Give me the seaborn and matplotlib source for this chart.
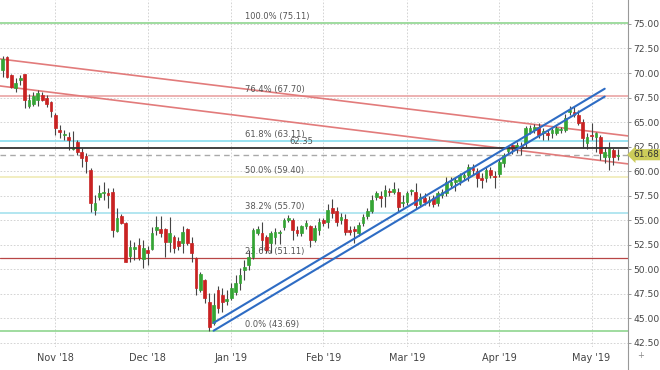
import numpy as np
import pandas as pd
import matplotlib
matplotlib.use("Agg")
import matplotlib.pyplot as plt
import matplotlib.transforms as mtransforms
from matplotlib.lines import Line2D
from matplotlib.ticker import FormatStrFormatter
import seaborn as sns

# trading days on the chart
first_day = "2018-10-16"
last_day = "2019-05-09"
holidays = ["2018-11-22", "2018-12-05", "2018-12-25", "2019-01-01",
            "2019-01-21", "2019-02-18", "2019-04-19"]

# daily candles
opens = [70.30, 71.67, 69.80, 68.45, 69.30, 69.90, 66.68, 66.80, 67.26, 67.77, 67.50, 67.00,
         65.73, 64.20, 63.70, 63.52, 62.27, 62.95, 61.93, 61.55, 60.13, 56.00, 57.40, 57.80,
         57.80, 57.92, 53.94, 55.44, 54.70, 51.36, 52.05, 52.50, 51.03,
         51.98, 52.05, 54.00, 54.10, 54.08, 52.82, 53.33, 52.90, 52.66, 54.08, 52.72, 51.13,
         47.90, 48.90, 46.71,
         44.50, 47.90, 47.40, 46.80, 47.05, 47.73, 48.58, 49.94, 50.45, 51.30, 53.75, 53.75,
         53.33, 52.66, 53.33, 53.70, 54.35, 55.03, 55.03, 54.00, 53.75, 54.40, 54.42, 53.00,
         54.00, 55.03, 54.86, 56.20, 55.90, 55.00, 55.10, 54.00, 54.10, 53.67, 54.70, 55.40,
         55.90, 57.40, 57.50, 57.50, 58.00, 57.92, 57.92, 56.80, 56.90, 57.95, 57.92, 56.70,
         57.30, 56.90, 57.30, 56.73, 57.60, 57.75, 58.60, 58.95, 59.00, 59.45, 59.60, 60.30,
         60.00, 59.30, 59.28, 60.13, 59.55, 59.70, 60.80, 62.10, 62.65, 62.35, 62.55,
         62.85, 64.03, 64.20, 64.54, 63.90, 63.93, 63.86, 63.86, 64.20, 64.20, 66.00, 66.07,
         65.73, 65.05, 62.85, 63.70, 63.52, 63.52, 61.48, 61.48, 62.16, 61.55]
highs = [71.70, 71.77, 69.90, 69.47, 69.80, 69.95, 67.90, 68.10, 68.30, 68.07, 67.77, 67.20,
         65.93, 64.70, 64.20, 63.97, 64.10, 63.20, 62.34, 61.86, 60.33, 57.60, 58.60, 58.90,
         58.30, 58.30, 56.26, 55.64, 54.80, 53.00, 52.80, 53.20, 53.00,
         52.40, 54.30, 55.40, 55.40, 54.20, 55.37, 53.50, 53.30, 54.42, 54.20, 53.33, 51.30,
         49.77, 49.00, 47.60,
         47.56, 48.30, 48.10, 47.90, 48.60, 49.40, 50.10, 50.96, 51.98, 54.20, 54.40, 54.85,
         53.50, 53.90, 54.20, 54.00, 55.20, 55.55, 55.25, 54.40, 54.50, 55.00, 54.50, 54.50,
         55.20, 55.20, 56.70, 57.20, 56.40, 55.70, 55.60, 54.40, 54.40, 54.80, 55.60, 56.20,
         57.60, 58.00, 58.00, 58.60, 58.30, 58.90, 58.30, 57.60, 58.00, 58.20, 58.80, 57.80,
         57.80, 57.50, 57.60, 58.00, 58.20, 59.40, 59.40, 59.40, 59.80, 59.90, 60.70, 60.70,
         60.30, 59.80, 60.40, 60.40, 60.00, 61.20, 61.90, 62.60, 62.80, 63.00, 63.00,
         64.60, 64.70, 64.80, 64.90, 64.40, 64.20, 64.40, 64.60, 64.50, 65.80, 66.60, 66.60,
         66.20, 65.30, 63.90, 64.90, 64.00, 63.70, 62.50, 63.00, 62.40, 62.30]
lows = [69.60, 69.47, 68.45, 68.10, 68.80, 66.40, 66.40, 66.60, 66.60, 67.10, 66.58, 65.56,
        63.69, 63.35, 63.18, 62.16, 62.16, 61.65, 60.46, 59.80, 55.85, 55.50, 57.10, 57.07,
        56.25, 53.33, 53.80, 54.60, 50.75, 50.80, 50.96, 50.96, 50.17,
        50.45, 51.98, 53.50, 53.30, 51.30, 51.80, 51.64, 51.98, 51.64, 52.50, 50.78, 47.40,
        47.73, 46.55, 43.69,
        44.33, 45.56, 45.70, 46.40, 46.90, 47.40, 47.90, 48.90, 49.94, 51.10, 53.50, 51.98,
        51.70, 51.70, 52.55, 52.60, 54.00, 54.80, 53.00, 53.40, 53.40, 54.10, 52.30, 52.80,
        53.50, 54.40, 54.20, 55.20, 54.40, 54.60, 53.50, 53.50, 52.66, 53.40, 54.40, 55.10,
        55.70, 57.10, 56.40, 56.40, 57.50, 57.70, 55.90, 56.40, 56.60, 57.60, 56.10, 56.40,
        56.60, 56.50, 56.40, 56.50, 57.30, 57.50, 58.30, 58.00, 58.60, 59.10, 59.00, 59.60,
        58.40, 58.30, 58.90, 59.30, 58.30, 59.40, 60.40, 61.80, 61.80, 61.90, 61.60,
        62.50, 63.80, 63.90, 63.40, 63.20, 63.20, 63.40, 63.70, 63.90, 64.00, 65.70, 65.50,
        64.70, 62.33, 62.30, 63.20, 62.00, 61.14, 60.80, 60.13, 60.60, 61.10]
closes = [71.40, 69.63, 68.60, 68.96, 69.50, 67.26, 67.26, 67.70, 68.00, 67.26, 66.80, 66.14,
          64.37, 63.97, 63.80, 63.18, 62.40, 61.99, 61.32, 61.04, 56.76, 56.80, 57.80, 57.90,
          57.60, 54.00, 55.24, 54.70, 50.80, 52.30, 52.25, 51.13, 52.15,
          51.64, 53.74, 54.30, 53.75, 52.82, 53.74, 52.15, 52.38, 53.84, 52.66, 51.64, 48.07,
          49.53, 47.05, 44.16,
          46.37, 46.03, 46.71, 47.00, 48.07, 48.58, 49.43, 50.28, 51.30, 54.00, 54.08, 53.00,
          51.98, 53.67, 53.84, 53.84, 55.03, 55.20, 54.00, 53.75, 54.42, 54.70, 53.00, 54.20,
          54.86, 54.70, 56.05, 55.70, 54.86, 55.30, 53.84, 53.84, 53.90, 54.50, 55.37, 55.90,
          57.07, 57.75, 57.25, 58.10, 57.90, 58.16, 56.40, 56.90, 57.75, 58.10, 56.56, 57.40,
          56.90, 57.10, 56.70, 57.75, 57.92, 58.93, 58.93, 59.10, 59.60, 59.60, 60.46, 60.13,
          59.28, 59.10, 60.13, 59.60, 59.45, 60.97, 61.66, 62.50, 62.40, 62.67, 62.35,
          64.37, 64.37, 64.54, 63.70, 64.05, 63.70, 64.20, 64.44, 64.30, 65.40, 66.24, 65.73,
          64.88, 63.36, 63.52, 63.55, 63.86, 61.82, 61.99, 62.33, 61.48, 61.68]

# fibonacci retracement levels
fib_pcts = [100.0, 76.4, 61.8, 50.0, 38.2, 23.6, 0.0]
fib_prices = [75.11, 67.70, 63.11, 59.40, 55.70, 51.11, 43.69]
fib_colors = ["#8fd68f", "#eaa4a4", "#86dcee", "#f0ebb6", "#a6e1ee", "#b84646", "#8fd68f"]

pivot_level = 62.35
last_close = 61.68

# trendline anchor points (date, price)
red_top_dates, red_top_prices = ["2018-10-16", "2019-05-09"], [71.40, 63.72]
red_low_dates, red_low_prices = ["2018-10-16", "2019-05-09"], [68.65, 60.87]
blue_dates = ["2018-12-26", "2019-05-06"]
blue_upper_prices = [44.55, 68.40]
blue_lower_prices = [43.75, 67.60]

yticks = np.arange(42.5, 75.01, 2.5)

days = pd.bdate_range(first_day, last_day)
days = days[~days.isin(pd.to_datetime(holidays))]
pos = np.arange(len(days))
day_pos = pd.Series(pos, index=days)

o = np.array(opens)
h = np.array(highs)
l = np.array(lows)
c = np.array(closes)

sns.set_theme(style="white")
plt.rcParams["font.family"] = ["DejaVu Sans"]

fig = plt.figure(figsize=(6.6, 3.7), dpi=100)
ax = fig.add_axes([0, 23 / 370, 628 / 660, 347 / 370])
ax.set_xlim(-0.6, len(days) + 1.3)
ax.set_ylim(42.09, 77.44)

# grid
month_idx = [i for i in range(1, len(days)) if days[i].month != days[i - 1].month]
ax.set_xticks(month_idx)
ax.set_xticklabels([days[i].strftime("%b '%y") for i in month_idx])
ax.set_yticks(yticks)
ax.yaxis.set_major_formatter(FormatStrFormatter("%.2f"))
ax.grid(True, color="#cdcdcd", lw=0.6, ls=(0, (2, 2)))
ax.set_axisbelow(True)

# fib levels
label_x = 55.2
for pct, price, col in zip(fib_pcts, fib_prices, fib_colors):
    lw = 0.9 if pct == 23.6 else 1.2
    ax.axhline(price, color=col, lw=lw, zorder=1.5)
    ax.annotate(f"{pct:.1f}% ({price:.2f})", (label_x, price), xytext=(0, 1.5),
                textcoords="offset points", fontsize=6, color="#555555", va="bottom")

ax.axhline(last_close, color="#a9a9a9", lw=1.0, ls=(0, (4, 3)), zorder=1.6)

# trendlines
red_col = "#e27b7b"
ax.axline((day_pos[pd.Timestamp(red_top_dates[0])], red_top_prices[0]),
          (day_pos[pd.Timestamp(red_top_dates[1])], red_top_prices[1]),
          color=red_col, lw=1.2, zorder=2)
ax.axline((day_pos[pd.Timestamp(red_low_dates[0])], red_low_prices[0]),
          (day_pos[pd.Timestamp(red_low_dates[1])], red_low_prices[1]),
          color=red_col, lw=1.2, zorder=2)

blue_x = [day_pos[pd.Timestamp(d)] for d in blue_dates]
blue_df = pd.DataFrame({
    "x": blue_x + blue_x,
    "y": blue_upper_prices + blue_lower_prices,
    "line": ["upper", "upper", "lower", "lower"],
})
sns.lineplot(data=blue_df, x="x", y="y", units="line", estimator=None,
             color="#2e6cc4", lw=1.5, ax=ax, zorder=5)

# candles
up = c >= o
body_cols = np.where(up, "#35a535", "#c92222")
ax.vlines(pos, l, h, colors="#454545", lw=0.8, zorder=3)
ax.bar(pos, np.abs(c - o), bottom=np.minimum(o, c), width=0.62, color=body_cols,
       edgecolor=body_cols, lw=0.5, zorder=4)

ax.axhline(pivot_level, color="#333333", lw=1.3, zorder=4.5)
ax.annotate(f"{pivot_level:.2f}", (65.2, pivot_level), xytext=(0, 1.5),
            textcoords="offset points", fontsize=6, color="#555555", va="bottom")

# axes styling
ax.set_xlabel("")
ax.set_ylabel("")
ax.yaxis.tick_right()
ax.tick_params(axis="y", length=2.5, width=0.6, color="#888888", labelsize=6.6,
               labelcolor="#444444", pad=1.2, right=True, left=False)
ax.tick_params(axis="x", length=0, labelsize=7, labelcolor="#444444", pad=4)
for side in ["left", "top", "bottom"]:
    ax.spines[side].set_visible(False)
ax.spines["right"].set_color("#999999")
ax.spines["right"].set_linewidth(0.8)
fig.add_artist(Line2D([628 / 660, 628 / 660], [0, 23 / 370], transform=fig.transFigure,
                      color="#999999", lw=0.8))
fig.text(641 / 660, 1 - 356 / 370, "+", fontsize=6, color="#888888", ha="center", va="center")

# last price tag
trans = mtransforms.blended_transform_factory(ax.transAxes, ax.transData)
ax.text(1.008, last_close, f"{last_close:.2f}", transform=trans, ha="left", va="center",
        fontsize=6.5, color="#333333", clip_on=False, zorder=10,
        bbox=dict(boxstyle="larrow,pad=0.12", fc="#cdcd5a", ec="none"))

fig.savefig("out.png", dpi=100)
